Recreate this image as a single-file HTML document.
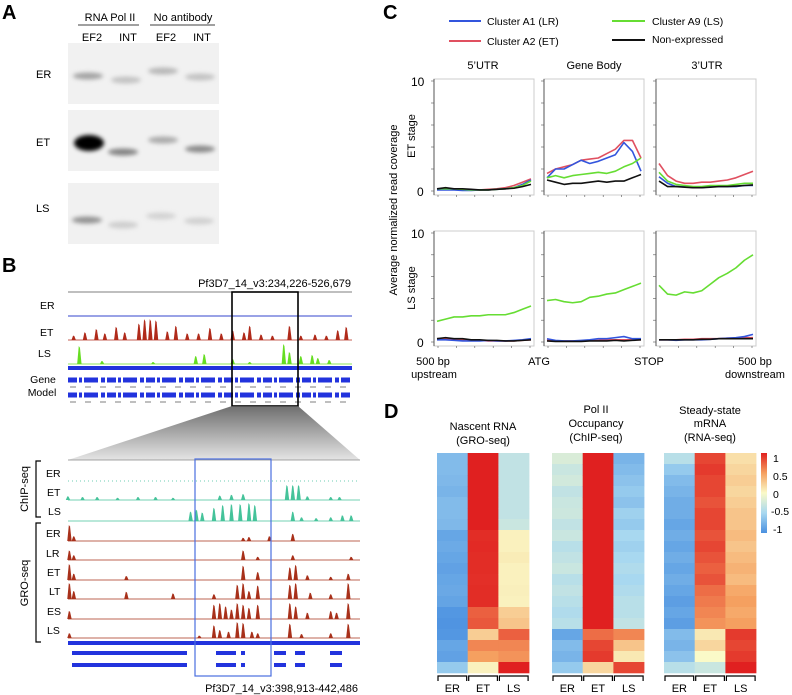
<!DOCTYPE html>
<html><head><meta charset="utf-8">
<style>
html,body{margin:0;padding:0;background:#fff;}
svg{display:block;font-family:"Liberation Sans",Arial,sans-serif;}
</style></head>
<body>
<svg id="fig" width="792" height="695" viewBox="0 0 792 695" xmlns="http://www.w3.org/2000/svg">
<defs>
<filter id="blur" x="-30%" y="-100%" width="160%" height="300%"><feGaussianBlur stdDeviation="2.2"/></filter>
<linearGradient id="cbar" x1="0" y1="0" x2="0" y2="1">
<stop offset="0" stop-color="#e02020"/><stop offset="0.25" stop-color="#f5a060"/><stop offset="0.5" stop-color="#fafac8"/><stop offset="0.75" stop-color="#a8d8f0"/><stop offset="1" stop-color="#4a90e0"/>
</linearGradient>
<linearGradient id="trap" x1="0" y1="0" x2="0" y2="1"><stop offset="0" stop-color="#555"/><stop offset="1" stop-color="#e0e0e0"/></linearGradient>
</defs>

<!-- Panel A -->
<g>
<text x="2" y="19" font-size="20" font-weight="bold">A</text>
<text x="110" y="21" font-size="11" text-anchor="middle">RNA Pol II</text>
<text x="183" y="21" font-size="11" text-anchor="middle">No antibody</text>
<line x1="78" y1="25" x2="139" y2="25" stroke="#000" stroke-width="0.8"/>
<line x1="150" y1="25" x2="215" y2="25" stroke="#000" stroke-width="0.8"/>
<text x="92" y="41" font-size="11" text-anchor="middle">EF2</text>
<text x="128" y="41" font-size="11" text-anchor="middle">INT</text>
<text x="166" y="41" font-size="11" text-anchor="middle">EF2</text>
<text x="202" y="41" font-size="11" text-anchor="middle">INT</text>
<text x="36" y="78" font-size="11">ER</text>
<text x="36" y="146" font-size="11">ET</text>
<text x="36" y="212" font-size="11">LS</text>
<g id="gels"></g>
</g>

<!-- Panel B -->
<g>
<text x="2" y="272" font-size="20" font-weight="bold">B</text>
<text x="351" y="287" font-size="11" text-anchor="end">Pf3D7_14_v3:234,226-526,679</text>
<line x1="68" y1="292" x2="352" y2="292" stroke="#555" stroke-width="0.8"/>
<text x="40" y="309" font-size="10.5">ER</text>
<text x="40" y="336" font-size="10.5">ET</text>
<text x="38" y="357" font-size="10.5">LS</text>
<text x="43" y="383" font-size="10.5" text-anchor="middle">Gene</text>
<text x="42" y="396" font-size="10.5" text-anchor="middle">Model</text>
<g id="topTracks"></g>
<rect x="232" y="292" width="66" height="114" fill="none" stroke="#000" stroke-width="1.6"/>
<polygon points="232,406 298,406 360,460 68,460" fill="url(#trap)" opacity="0.85"/>
<line x1="68" y1="460" x2="360" y2="460" stroke="#888" stroke-width="0.8"/>
<g id="botTracks"></g>
<rect x="195" y="459" width="76" height="217" fill="none" stroke="#4a6ee0" stroke-width="1.2"/>
<path d="M41,461 H36 V517 H41" fill="none" stroke="#000" stroke-width="1.2"/>
<path d="M41,523 H36 V642 H41" fill="none" stroke="#000" stroke-width="1.2"/>
<text transform="translate(28,489) rotate(-90)" font-size="11" text-anchor="middle">ChIP-seq</text>
<text transform="translate(28,583) rotate(-90)" font-size="11" text-anchor="middle">GRO-seq</text>
<g font-size="10.5">
<text x="46" y="477">ER</text><text x="47" y="496">ET</text><text x="48" y="515">LS</text>
<text x="46" y="537">ER</text><text x="46" y="557">LR</text><text x="47" y="576">ET</text>
<text x="49" y="595">LT</text><text x="47" y="615">ES</text><text x="47" y="634">LS</text>
</g>
<text x="358" y="692" font-size="11" text-anchor="end">Pf3D7_14_v3:398,913-442,486</text>
</g>

<!-- Panel C -->
<g>
<text x="383" y="19" font-size="20" font-weight="bold">C</text>
<g font-size="10.5">
<line x1="449" y1="21" x2="481" y2="21" stroke="#3355dd" stroke-width="2"/><text x="487" y="25">Cluster A1 (LR)</text>
<line x1="449" y1="41" x2="481" y2="41" stroke="#e05060" stroke-width="2"/><text x="487" y="45">Cluster A2 (ET)</text>
<line x1="612" y1="21" x2="645" y2="21" stroke="#66dd33" stroke-width="2"/><text x="652" y="25">Cluster A9 (LS)</text>
<line x1="612" y1="40" x2="645" y2="40" stroke="#111" stroke-width="2"/><text x="652" y="43">Non-expressed</text>
</g>
<g font-size="11" text-anchor="middle">
<text x="483" y="69">5’UTR</text><text x="594" y="69">Gene Body</text><text x="707" y="69">3’UTR</text>
</g>
<text transform="translate(397,210) rotate(-90)" font-size="11" text-anchor="middle">Average normalized read coverage</text>
<text transform="translate(415,136) rotate(-90)" font-size="11" text-anchor="middle">ET stage</text>
<text transform="translate(415,288) rotate(-90)" font-size="11" text-anchor="middle">LS stage</text>
<g id="lineCharts"></g>
<g font-size="11" text-anchor="middle">
<text x="433" y="365">500 bp</text><text x="434" y="378">upstream</text>
<text x="539" y="365">ATG</text><text x="649" y="365">STOP</text>
<text x="755" y="365">500 bp</text><text x="755" y="378">downstream</text>
</g>
</g>

<!-- Panel D -->
<g>
<text x="384" y="418" font-size="20" font-weight="bold">D</text>
<g font-size="11" text-anchor="middle">
<text x="483" y="430">Nascent RNA</text><text x="483" y="444">(GRO-seq)</text>
<text x="596" y="413">Pol II</text><text x="596" y="427">Occupancy</text><text x="596" y="441">(ChIP-seq)</text>
<text x="710" y="414">Steady-state</text><text x="710" y="427">mRNA</text><text x="710" y="441">(RNA-seq)</text>
</g>
<g id="heatmaps"></g>
<rect x="761" y="453" width="6" height="80" fill="url(#cbar)"/>
<g font-size="10.5">
<text x="773" y="462">1</text><text x="773" y="480">0.5</text><text x="773" y="498">0</text><text x="771" y="515">-0.5</text><text x="773" y="533">-1</text>
</g>
</g>
</svg>
<script>
// ---------- Panel C data ----------
const seriesNames = ['A2','A1','A9','NE'];
const seriesColors = {A1:'#3355dd',A2:'#e05060',A9:'#66dd33',NE:'#111111'};
const yTicks = [0,2,4,6,8,10];
const etUTR5 = {A1:[0.1,0.1,0.1,0.05,0.05,0.1,0.1,0.15,0.2,0.3,0.6,1.0],A2:[0.2,0.2,0.15,0.1,0.1,0.1,0.15,0.2,0.3,0.5,0.8,1.1],A9:[0.2,0.2,0.2,0.15,0.1,0.1,0.1,0.15,0.2,0.3,0.5,0.9],NE:[0.2,0.3,0.2,0.2,0.15,0.1,0.1,0.15,0.2,0.25,0.4,0.6]};
const etBody = {A2:[1.6,2.0,2.2,2.4,2.8,2.9,3.0,3.4,3.8,4.6,4.6,3.0],A1:[1.2,2.0,2.0,2.4,2.8,2.5,2.7,3.0,3.3,4.4,3.6,1.8],A9:[1.2,1.4,1.2,1.4,1.5,1.6,1.7,1.6,1.8,2.2,2.5,3.0],NE:[1.0,0.8,0.6,0.7,0.7,0.8,0.9,0.8,0.9,0.9,1.2,1.5]};
const etUTR3 = {A2:[2.5,1.4,0.9,0.7,0.7,0.8,0.8,0.9,1.0,1.2,1.5,1.8],A1:[1.3,0.7,0.4,0.4,0.3,0.3,0.4,0.4,0.4,0.4,0.5,0.5],A9:[1.7,0.9,0.6,0.5,0.4,0.4,0.5,0.5,0.5,0.6,0.7,0.7],NE:[0.9,0.4,0.4,0.35,0.3,0.3,0.35,0.4,0.4,0.45,0.5,0.55]};
const lsUTR5 = {A2:[0.3,0.3,0.2,0.2,0.15,0.15,0.1,0.1,0.1,0.1,0.15,0.2],A1:[0.2,0.2,0.15,0.1,0.1,0.1,0.15,0.1,0.1,0.15,0.2,0.3],A9:[1.9,2.1,2.3,2.3,2.4,2.4,2.5,2.5,2.5,2.7,3.0,3.3],NE:[0.3,0.4,0.3,0.3,0.2,0.2,0.15,0.15,0.1,0.1,0.15,0.2]};
const lsBody = {A2:[0.2,0.1,0.1,0.1,0.1,0.15,0.15,0.2,0.2,0.2,0.2,0.2],A1:[0.3,0.15,0.1,0.1,0.15,0.2,0.3,0.3,0.4,0.5,0.3,0.3],A9:[3.8,3.9,3.7,3.6,3.7,4.1,4.2,4.4,4.5,4.8,5.1,5.4],NE:[0.1,0.05,0.05,0.05,0.05,0.1,0.1,0.1,0.15,0.1,0.15,0.2]};
const lsUTR3 = {A2:[0.2,0.2,0.2,0.25,0.25,0.3,0.3,0.3,0.35,0.35,0.4,0.4],A1:[0.2,0.2,0.15,0.2,0.2,0.2,0.25,0.3,0.35,0.4,0.5,0.7],A9:[5.2,4.4,4.3,4.6,4.5,4.7,5.3,5.9,6.3,6.8,7.5,8.0],NE:[0.2,0.2,0.2,0.2,0.2,0.25,0.25,0.3,0.3,0.3,0.3,0.3]};

// ---------- Panel D data (values in -1..1, rows top to bottom) ----------
const groER = [-0.7,-0.7,-0.72,-0.75,-0.7,-0.7,-0.72,-0.85,-0.82,-0.85,-0.88,-0.85,-0.83,-0.86,-0.95,-0.97,-0.95,-0.85,-0.88,-0.6];
const groET = [1,1,1,1,1,1,1,0.95,0.96,0.95,0.95,0.94,0.95,0.95,0.75,0.78,0.25,0.6,0.5,0.05];
const groLS = [-0.35,-0.35,-0.35,-0.35,-0.35,-0.35,-0.3,0.05,0.05,0.08,0.05,0.05,0.06,0.05,0.25,0.3,0.75,0.6,0.55,1];
const chipER = [-0.2,-0.3,-0.25,-0.35,-0.3,-0.28,-0.35,-0.3,-0.4,-0.35,-0.3,-0.4,-0.35,-0.4,-0.45,-0.4,-0.85,-0.7,-0.75,-0.6];
const chipET = [1,1,1,1,1,1,1,1,1,1,1,1,1,1,1,1,0.7,0.85,0.9,0.2];
const chipLS = [-0.75,-0.7,-0.65,-0.6,-0.65,-0.55,-0.6,-0.5,-0.55,-0.5,-0.45,-0.5,-0.45,-0.4,-0.4,-0.35,0.6,0.3,0.1,0.85];
const rnaER = [-0.4,-0.6,-0.7,-0.75,-0.8,-0.8,-0.85,-0.8,-0.85,-0.8,-0.85,-0.8,-0.85,-0.9,-0.85,-0.9,-0.7,-0.75,-0.65,-0.4];
const rnaET = [0.85,0.9,0.85,0.85,0.8,0.85,0.85,0.8,0.85,0.8,0.75,0.8,0.7,0.65,0.6,0.55,0.1,0.2,0.0,-0.3];
const rnaLS = [0.15,0.2,0.25,0.2,0.25,0.3,0.3,0.35,0.3,0.35,0.4,0.35,0.45,0.5,0.45,0.5,0.9,0.85,0.9,1];

// ---------- Panel B data: [position fraction, height 0..1] ----------
const topET = [[0.02,0.2],[0.06,0.35],[0.1,0.5],[0.13,0.3],[0.17,0.6],[0.2,0.35],[0.25,0.75],[0.27,0.95],[0.29,0.95],[0.31,0.9],[0.35,0.4],[0.38,0.65],[0.42,0.3],[0.46,0.3],[0.5,0.55],[0.54,0.3],[0.58,0.45],[0.62,0.35],[0.64,0.65],[0.68,0.25],[0.72,0.2],[0.78,0.65],[0.82,0.2],[0.87,0.25],[0.91,0.2],[0.95,0.45],[0.98,0.6]];
const topLS = [[0.04,0.9],[0.12,0.15],[0.3,0.1],[0.45,0.4],[0.48,0.5],[0.58,0.25],[0.64,0.1],[0.76,1.0],[0.78,0.6],[0.82,0.4],[0.86,0.45],[0.88,0.3],[0.92,0.2]];
const chipETpk = [[0.0,0.25],[0.05,0.2],[0.1,0.2],[0.17,0.15],[0.24,0.2],[0.3,0.2],[0.36,0.15],[0.52,0.3],[0.56,0.35],[0.6,0.4],[0.75,1.0],[0.77,1.0],[0.79,1.0],[0.82,0.25],[0.9,0.2],[0.93,0.2]];
const chipLSpk = [[0.42,0.5],[0.44,0.6],[0.46,0.45],[0.5,0.7],[0.53,0.85],[0.56,0.9],[0.59,0.9],[0.62,0.95],[0.64,0.85],[0.77,0.5],[0.8,0.2],[0.85,0.15],[0.9,0.2],[0.94,0.3],[0.97,0.3]];
const groERpk = [[0.005,1.0],[0.02,0.3],[0.6,0.2],[0.62,0.25],[0.69,0.3],[0.77,0.45]];
const groLRpk = [[0.005,0.6],[0.02,0.3],[0.6,0.6],[0.65,0.2],[0.77,0.3],[0.97,0.2]];
const groETpk = [[0.005,1.0],[0.02,0.4],[0.2,0.25],[0.6,0.9],[0.65,0.5],[0.76,0.8],[0.78,0.95],[0.82,0.3],[0.9,0.2],[0.96,0.4]];
const groLTpk = [[0.005,1.0],[0.02,0.5],[0.2,0.45],[0.36,0.35],[0.5,0.3],[0.58,0.9],[0.6,1.0],[0.62,0.5],[0.65,0.85],[0.76,0.9],[0.78,1.0],[0.83,0.4],[0.9,0.3],[0.96,1.0]];
const groESpk = [[0.005,0.5],[0.5,0.9],[0.52,1.0],[0.54,0.8],[0.56,0.6],[0.58,1.0],[0.6,0.9],[0.62,0.7],[0.65,0.9],[0.76,1.0],[0.78,0.8],[0.82,0.4],[0.9,0.5],[0.92,0.4],[0.96,1.0]];
const groLSpk = [[0.005,0.3],[0.45,0.15],[0.5,0.8],[0.52,0.5],[0.55,0.4],[0.58,1.0],[0.6,0.95],[0.63,0.4],[0.65,0.3],[0.76,0.9],[0.8,0.25],[0.9,0.3],[0.96,0.9]];

const NS='http://www.w3.org/2000/svg';
function mk(parent, tag, attrs){const e=document.createElementNS(NS,tag);for(const k in attrs)e.setAttribute(k,attrs[k]);parent.appendChild(e);return e;}

// ---- Gels ----
const gels=document.getElementById('gels');
[[43,[[88,76,'#909090',0.8],[126,80,'#b0b0b0',0.7],[163,71,'#a0a0a0',0.7],[200,77,'#b0b0b0',0.7]]],
 [110,[[89,143,'#000',1],[123,152,'#777',0.9],[163,140,'#9a9a9a',0.8],[200,149,'#808080',0.9]]],
 [183,[[87,220,'#888',0.9],[123,225,'#c0c0c0',0.7],[161,216,'#c0c0c0',0.6],[199,221,'#c4c4c4',0.7]]]].forEach((g,i)=>{
  const r=mk(gels,'rect',{x:68,y:g[0],width:151,height:61,fill:'#f1f1f1'});
  
  
  g[1].forEach(b=>{mk(gels,'ellipse',{cx:b[0],cy:b[1],rx:15,ry:i===1&&b[2]==='#000'?8:3.5,fill:b[2],opacity:b[3],filter:'url(#blur)'});});
});

// ---- Tracks ----
function track(parent, peaks, x0, w, base, h, color, noise, name){
  const g=mk(parent,'g',{});
  
  
  mk(g,'line',{x1:x0,y1:base,x2:x0+w,y2:base,stroke:color,'stroke-width':0.7,'stroke-dasharray':noise?'2,2':''});
  peaks.forEach(p=>{
    const px=x0+p[0]*w, ph=p[1]*h;
    mk(g,'polygon',{points:`${px-2.2},${base} ${px-0.6},${base-ph} ${px+0.6},${base-ph*0.9} ${px+2.2},${base}`,fill:color});
  });
}
const tt=document.getElementById('topTracks');
mk(tt,'line',{x1:68,y1:316,x2:352,y2:316,stroke:'#3344cc','stroke-width':1});
track(tt,topET,68,284,340,22,'#b02a1a',false,'et-track');
track(tt,topLS,68,284,364,20,'#66dd22',false,'ls-track');
mk(tt,'rect',{x:68,y:366,width:284,height:4,fill:'#2233dd'});
[380,395].forEach(y=>{
  const gm=mk(tt,'line',{x1:68,y1:y,x2:352,y2:y,stroke:'#2233dd','stroke-width':5,'stroke-dasharray':'9,2,3,2,14,3,4,2'});
  
  
  mk(tt,'line',{x1:70,y1:y+7,x2:350,y2:y+7,stroke:'#aaa','stroke-width':1.5,'stroke-dasharray':'6,9'});
});

const bt=document.getElementById('botTracks');
mk(bt,'line',{x1:68,y1:481,x2:360,y2:481,stroke:'#3fbf9a','stroke-width':0.8,'stroke-dasharray':'1,3'});
track(bt,chipETpk,68,292,500,15,'#45c39a',false,'chip-et-track');
track(bt,chipLSpk,68,292,521,19,'#45c39a',false,'chip-ls-track');
[[groERpk,541],[groLRpk,560],[groETpk,580],[groLTpk,599],[groESpk,619],[groLSpk,638]].forEach((t,i)=>{
  track(bt,t[0],68,292,t[1],16,'#a8301a',false,'gro-track-'+i);
});
mk(bt,'rect',{x:68,y:641,width:292,height:4,fill:'#2233dd'});
[[72,187],[216,236],[241,245],[274,286],[295,305],[330,342]].forEach(s=>{
  mk(bt,'rect',{x:s[0],y:651,width:s[1]-s[0],height:4,fill:'#2233dd'});
  mk(bt,'rect',{x:s[0],y:663,width:s[1]-s[0],height:4,fill:'#2233dd'});
});

// ---- Line charts ----
const lc=document.getElementById('lineCharts');
const panelsX=[434,544,656], pw=100;
const rows=[{y0:191,y10:81,data:[etUTR5,etBody,etUTR3]},{y0:342,y10:233,data:[lsUTR5,lsBody,lsUTR3]}];
rows.forEach((row,ri)=>{
  const ys=v=>row.y0-(v/10)*(row.y0-row.y10);
  yTicks.forEach(t=>{ if(t===0||t===10){const tx=mk(lc,'text',{x:t===10?411:417,y:ys(t)+5,'font-size':12});tx.textContent=t;} });
  panelsX.forEach((px,pi)=>{
    const box=mk(lc,'rect',{x:px,y:row.y10-2,width:pw,height:row.y0-row.y10+6,fill:'none',stroke:'#ccc','stroke-width':1});
    
    
    mk(lc,'line',{x1:px,y1:row.y10-2,x2:px,y2:row.y0+4,stroke:'#555','stroke-width':1});
    yTicks.forEach(t=>mk(lc,'line',{x1:px-3,y1:ys(t),x2:px,y2:ys(t),stroke:'#555','stroke-width':0.6}));
    for(let k=0;k<=5;k++) mk(lc,'line',{x1:px+4+k*18.4,y1:row.y0+4,x2:px+4+k*18.4,y2:row.y0+6,stroke:'#555','stroke-width':0.6});
    const d=row.data[pi];
    seriesNames.forEach(s=>{
      const vals=d[s]; const n=vals.length;
      const pts=vals.map((v,i)=>`${px+3+i*(pw-6)/(n-1)},${ys(v)}`).join(' ');
      const pl=mk(lc,'polyline',{points:pts,fill:'none',stroke:seriesColors[s],'stroke-width':1.6,'stroke-linejoin':'round'});
      
      
    });
  });
});

// ---- Heatmaps ----
function cmap(v){
  const stops=[[-1,[74,144,224]],[-0.5,[168,216,240]],[0,[250,250,200]],[0.5,[245,160,96]],[1,[224,32,32]]];
  v=Math.max(-1,Math.min(1,v));
  for(let i=0;i<4;i++){const a=stops[i],b=stops[i+1];if(v<=b[0]){const t=(v-a[0])/(b[0]-a[0]);return `rgb(${a[1].map((c,j)=>Math.round(c+(b[1][j]-c)*t)).join(',')})`;}}
}
const hm=document.getElementById('heatmaps');
const hmX=[437,552,664], colW=30.7, hmTop=453, hmH=220;
const hmData=[[groER,groET,groLS],[chipER,chipET,chipLS],[rnaER,rnaET,rnaLS]];
const stageLabels=['ER','ET','LS'];
hmData.forEach((cols,hi)=>{
  const g=mk(hm,'g',{});
  
  
  cols.forEach((vals,ci)=>{
    const rh=hmH/vals.length;
    vals.forEach((v,ri)=>{
      const c=mk(g,'rect',{x:hmX[hi]+ci*colW,y:hmTop+ri*rh,width:colW+0.3,height:rh+0.3,fill:cmap(v)});
      
      
    });
    const bx=hmX[hi]+ci*colW;
    mk(g,'path',{d:`M${bx+1},${hmTop+hmH+8} V${hmTop+hmH+3} H${bx+colW-1} V${hmTop+hmH+8}`,fill:'none',stroke:'#000','stroke-width':1.2});
    const lb=mk(g,'text',{x:bx+colW/2,y:692,'font-size':11,'text-anchor':'middle'});
    lb.textContent=stageLabels[ci];
  });
});
</script>
</body></html>
